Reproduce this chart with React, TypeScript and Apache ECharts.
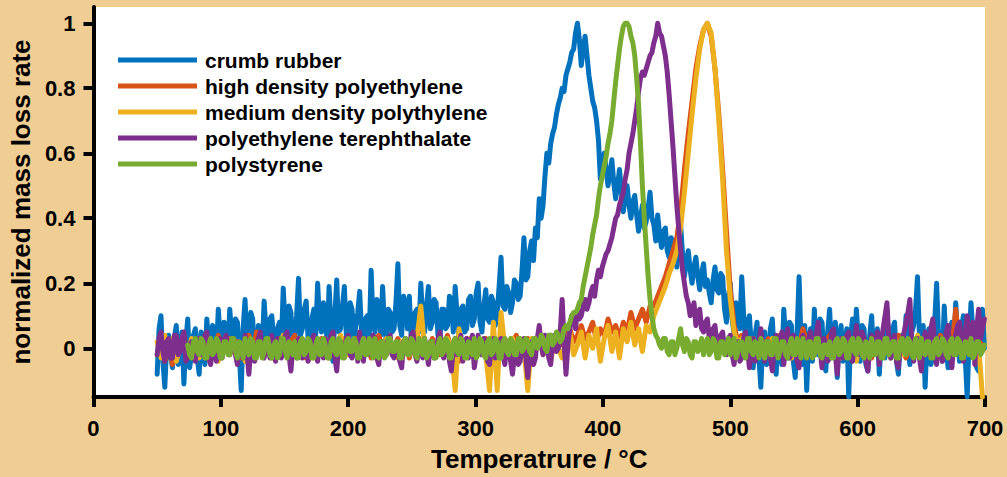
import React, { useEffect, useRef } from "react";
import * as echarts from "echarts";

const seriesNames = [
  "crumb rubber",
  "high density polyethylene",
  "medium density polythylene",
  "polyethylene terephthalate",
  "polystyrene",
];
const seriesColors = ["#0072BD", "#D95319", "#EDB120", "#7E2F8E", "#77AC30"];

const xTicks = [0, 100, 200, 300, 400, 500, 600, 700];
const yTicks = [0, 0.2, 0.4, 0.6, 0.8, 1];

// Sampling grid of each run: first temperature and spacing (°C)
const seriesStart = [50, 50, 50, 50, 74];
const seriesStep = [1.5, 3, 3, 1.5, 1.5];

// crumb rubber, 50..699.5 °C every 1.5 °C
const crumbRubber = [
  -0.08, 0.06, 0.10, -0.04, -0.12, 0.01, 0.04, -0.02, -0.06, 0.03, 0.07, -0.05, -0.03, 0.05, -0.11, 0.02, 0.09, -0.06, -0.02, 0.04,
  0.06, -0.03, -0.08, 0.05, 0.03, -0.05, 0.09, 0.01, -0.04, 0.07, 0.05, -0.02, 0.12, 0.03, -0.02, 0.08, 0.07, -0.01, 0.12, 0.04,
  0.01, 0.09, 0.08, -0.02, -0.13, 0.06, 0.15, 0.02, 0.03, 0.11, 0.09, -0.03, -0.02, 0.07, 0.06, 0.0, 0.145, 0.05, 0.02, 0.09,
  0.10, 0.03, -0.03, 0.06, 0.08, 0.01, 0.185, 0.07, 0.04, 0.13, 0.11, 0.0, 0.02, 0.10, 0.215, 0.04, 0.06, 0.12, 0.145, 0.03,
  0.01, 0.09, 0.12, 0.04, 0.20, 0.08, 0.05, 0.14, 0.09, 0.02, 0.19, 0.07, -0.04, 0.10, 0.21, 0.05, 0.06, 0.13, 0.19, 0.04,
  0.03, 0.14, 0.12, 0.02, 0.07, 0.11, 0.175, 0.05, 0.0, 0.09, 0.10, 0.03, 0.24, 0.08, 0.05, 0.15, 0.13, 0.04, 0.19, 0.07,
  0.02, 0.12, 0.11, 0.05, 0.06, 0.14, 0.26, 0.07, 0.04, 0.16, 0.13, 0.06, 0.16, 0.03, 0.03, 0.11, 0.12, 0.05, 0.20, 0.09,
  0.05, 0.13, 0.19, 0.06, 0.08, 0.15, 0.14, 0.04, 0.03, 0.12, 0.12, 0.06, 0.07, 0.16, 0.15, 0.05, 0.19, 0.10, 0.04, 0.12,
  0.13, 0.05, 0.06, 0.15, 0.16, 0.07, 0.09, 0.17, 0.20, 0.08, 0.05, 0.13, 0.18, 0.09, 0.08, 0.16, 0.14, 0.07, 0.11, 0.19,
  0.28, 0.13, 0.12, 0.19, 0.17, 0.11, 0.14, 0.21, 0.20, 0.15, 0.16, 0.24, 0.34, 0.21, 0.22, 0.30, 0.33, 0.27, 0.37, 0.34,
  0.46, 0.40, 0.44, 0.53, 0.60, 0.57, 0.63, 0.66, 0.68, 0.72, 0.75, 0.77, 0.80, 0.79, 0.84, 0.86, 0.88, 0.91, 0.92, 0.97,
  1.0, 0.95, 0.87, 0.92, 0.96, 0.90, 0.84, 0.80, 0.76, 0.74, 0.70, 0.64, 0.52, 0.56, 0.60, 0.55, 0.50, 0.54, 0.58, 0.51,
  0.46, 0.50, 0.55, 0.48, 0.42, 0.47, 0.50, 0.44, 0.40, 0.45, 0.47, 0.41, 0.36, 0.40, 0.44, 0.37, 0.39, 0.43, 0.48, 0.40,
  0.38, 0.33, 0.41, 0.35, 0.31, 0.36, 0.37, 0.30, 0.28, 0.34, 0.33, 0.27, 0.25, 0.31, 0.38, 0.29, 0.22, 0.27, 0.30, 0.24,
  0.20, 0.25, 0.28, 0.22, 0.18, 0.23, 0.26, 0.19, 0.21, 0.17, 0.14, 0.21, 0.25, 0.18, 0.17, 0.23, 0.22, 0.12, 0.08, 0.16,
  0.20, 0.09, 0.04, 0.14, 0.12, 0.06, 0.22, 0.10, 0.02, 0.07, 0.10, 0.01, -0.06, 0.04, 0.08, -0.03, -0.12, 0.02, 0.05, -0.05,
  -0.04, 0.06, 0.09, -0.02, -0.08, 0.03, 0.04, -0.05, 0.12, 0.02, -0.03, 0.08, 0.07, -0.04, -0.09, 0.05, 0.22, 0.03, -0.05, 0.07,
  -0.13, 0.02, 0.06, -0.04, 0.12, 0.01, -0.02, 0.09, 0.08, -0.03, -0.07, 0.05, 0.12, -0.01, 0.02, 0.08, -0.09, 0.03, 0.07, -0.04,
  0.01, 0.06, -0.15, 0.04, 0.09, -0.02, 0.12, 0.03, -0.04, 0.07, 0.06, -0.05, -0.07, 0.04, 0.10, -0.02, 0.0, 0.06, -0.08, 0.02,
  0.05, -0.03, 0.12, 0.01, -0.03, 0.06, 0.08, -0.04, -0.08, 0.03, 0.04, -0.02, 0.10, 0.02, -0.05, 0.05, 0.07, 0.12, 0.22, 0.04,
  0.0, 0.07, -0.12, 0.03, 0.06, -0.05, -0.03, 0.08, 0.20, 0.04, 0.02, -0.04, 0.13, 0.01, -0.06, 0.05, 0.08, -0.02, 0.14, 0.03,
  -0.04, 0.06, 0.10, -0.03, -0.15, 0.02, 0.14, 0.05, 0.03, -0.06, -0.07, 0.04, 0.12, 0.0,
];

// high density polyethylene, 50..698 °C every 3 °C
const hdpe = [
  -0.02, 0.03, -0.04, 0.01, -0.05, 0.02, -0.01, 0.04, -0.03, 0.01,
  -0.02, 0.03, 0.0, -0.03, 0.02, -0.01, 0.04, -0.02, 0.01, 0.03,
  -0.01, 0.02, -0.03, 0.01, 0.04, -0.02, 0.05, 0.0, -0.02, 0.02,
  0.01, -0.03, 0.03, 0.0, -0.02, 0.02, 0.04, -0.01, 0.01, -0.03,
  0.02, 0.0, -0.02, 0.03, 0.01, -0.03, 0.02, 0.0, -0.01, 0.03,
  -0.02, 0.01, 0.03, -0.01, 0.0, 0.02, -0.03, 0.01, 0.04, 0.0,
  -0.02, 0.02, 0.0, 0.03, -0.01, 0.01, -0.03, 0.02, 0.05, 0.0,
  0.02, -0.01, 0.03, 0.0, -0.02, 0.01, 0.04, -0.01, 0.02, -0.04,
  0.01, 0.03, -0.02, 0.0, 0.02, -0.01, 0.03, -0.05, 0.01, 0.02,
  0.0, 0.03, -0.01, 0.02, 0.04, -0.02, 0.01, 0.03, -0.05, 0.02,
  0.01, 0.03, 0.0, 0.04, 0.02, 0.05, 0.01, 0.03, 0.06, 0.02,
  0.04, 0.07, 0.03, 0.05, 0.08, 0.02, 0.06, 0.04, 0.09, 0.05,
  0.07, 0.03, 0.08, 0.05, 0.11, 0.06, 0.09, 0.12, 0.08, 0.13,
  0.13, 0.16, 0.19, 0.22, 0.26, 0.30, 0.34, 0.42, 0.55, 0.66,
  0.76, 0.86, 0.93, 0.98, 1.0, 0.96, 0.86, 0.72, 0.55, 0.36,
  0.18, 0.07, 0.02, 0.04, -0.02, 0.03, 0.0, -0.03, 0.02, 0.0,
  0.03, -0.02, 0.01, 0.04, -0.01, 0.02, -0.03, 0.01, 0.0, 0.06,
  0.02, -0.02, 0.03, 0.0, -0.03, 0.02, 0.04, -0.01, 0.01, -0.02,
  0.03, 0.0, -0.02, 0.02, 0.04, -0.01, 0.01, -0.03, 0.02, 0.0,
  -0.02, 0.03, 0.01, -0.01, 0.04, 0.0, -0.03, 0.02, 0.01, -0.02,
  0.03, 0.0, 0.02, -0.02, 0.01, 0.04, -0.01, 0.02, 0.0, 0.12,
  0.01, -0.02, 0.03, 0.0, -0.03, 0.02, 0.01,
];

// medium density polyethylene, 50..698 °C every 3 °C
const mdpe = [
  0.02, -0.03, 0.04, -0.01, 0.03, -0.04, 0.0, 0.02, -0.02, 0.03,
  0.0, -0.03, 0.02, 0.04, -0.01, 0.01, -0.04, 0.02, 0.0, -0.02,
  0.03, -0.01, 0.01, -0.04, 0.02, 0.0, -0.02, 0.03, -0.01, 0.01,
  -0.03, 0.02, 0.0, 0.04, -0.02, 0.01, -0.01, 0.03, 0.0, -0.02,
  0.02, -0.03, 0.01, 0.0, 0.03, -0.02, 0.01, -0.01, 0.04, 0.0,
  -0.02, 0.02, 0.0, -0.03, 0.03, 0.01, -0.01, 0.02, -0.02, 0.0,
  0.03, -0.01, 0.01, -0.03, 0.02, 0.0, -0.02, 0.01, 0.03, 0.13,
  0.0, -0.03, 0.02, -0.01, 0.01, -0.02, 0.03, 0.0, -0.13, 0.06,
  -0.02, 0.01, 0.03, -0.03, 0.02, 0.0, -0.02, -0.13, 0.08, -0.13,
  0.11, 0.0, -0.02, 0.03, -0.01, 0.02, 0.0, -0.13, 0.03, 0.01,
  0.04, -0.02, 0.02, -0.04, 0.03, 0.0, -0.03, 0.02, 0.05, -0.02,
  0.01, 0.05, -0.03, 0.04, 0.0, 0.06, -0.04, 0.03, 0.07, -0.01,
  0.05, -0.03, 0.06, 0.02, 0.08, 0.01, 0.06, -0.01, 0.07, 0.05,
  0.10, 0.13, 0.16, 0.19, 0.23, 0.26, 0.30, 0.37, 0.48, 0.60,
  0.72, 0.83, 0.92, 0.98, 1.0, 0.97, 0.86, 0.70, 0.52, 0.30,
  0.15, 0.05, 0.01, 0.03, -0.02, 0.01, 0.03, -0.02, 0.0, 0.02,
  -0.01, 0.03, 0.0, -0.02, 0.02, 0.01, -0.03, 0.02, 0.0, 0.03,
  -0.02, 0.01, 0.03, 0.0, -0.02, 0.02, -0.01, 0.03, 0.0, -0.03,
  0.01, -0.01, 0.03, -0.04, 0.02, 0.0, -0.02, 0.03, 0.01, -0.01,
  0.02, 0.0, -0.03, 0.03, 0.01, -0.02, 0.02, 0.0, -0.01, 0.04,
  0.0, -0.02, 0.03, 0.01, -0.04, 0.02, 0.0, 0.03, -0.02, 0.01,
  0.02, -0.01, 0.0, 0.03, -0.02, 0.01, -0.15,
];

// polyethylene terephthalate, 50..699.5 °C every 1.5 °C
const pet = [
  -0.02, 0.03, 0.05, -0.01, -0.04, 0.02, 0.03, -0.03, -0.03, 0.04, 0.04, -0.02, -0.01, 0.03, 0.05, -0.04, -0.03, 0.01, 0.02, -0.02,
  -0.04, 0.02, 0.03, -0.02, -0.01, 0.04, 0.05, -0.03, -0.05, 0.01, 0.02, -0.04, 0.0, 0.03, -0.03, 0.02, 0.04, -0.01, -0.02, 0.03,
  0.03, -0.02, -0.05, 0.02, 0.01, -0.03, 0.04, -0.01, -0.08, 0.0, 0.02, -0.04, -0.02, 0.03, 0.05, -0.02, -0.03, 0.02, 0.01, -0.03,
  0.04, -0.01, -0.04, 0.03, 0.02, -0.03, -0.01, 0.04, 0.05, -0.02, -0.07, 0.0, 0.01, -0.03, 0.03, -0.02, -0.03, 0.02, 0.02, -0.04,
  -0.02, 0.03, 0.04, -0.01, -0.04, 0.02, 0.01, -0.03, 0.03, 0.0, -0.02, 0.04, 0.05, -0.03, -0.07, 0.01, 0.02, -0.02, -0.01, 0.03,
  0.04, -0.02, -0.03, 0.02, 0.01, -0.04, 0.05, 0.0, -0.04, 0.03, 0.02, -0.02, -0.01, 0.04, 0.03, -0.03, -0.05, 0.01, 0.02, -0.02,
  0.0, 0.03, 0.04, -0.02, -0.03, 0.01, 0.02, -0.04, -0.06, 0.02, 0.03, -0.01, 0.0, 0.04, 0.05, -0.02, -0.04, 0.0, 0.01, -0.03,
  0.03, -0.01, -0.05, 0.02, 0.02, -0.03, -0.02, 0.03, 0.05, -0.01, -0.03, 0.02, 0.01, -0.04, -0.07, 0.0, 0.03, -0.02, 0.0, 0.04,
  -0.04, 0.01, 0.03, -0.03, 0.01, 0.04, -0.06, -0.02, 0.04, 0.0, -0.02, 0.03, 0.02, -0.04, -0.05, 0.01, 0.03, -0.03, -0.01, 0.02,
  0.03, -0.02, -0.05, 0.01, 0.02, -0.04, -0.08, -0.02, 0.01, -0.05, -0.04, 0.02, 0.03, -0.03, -0.09, -0.01, 0.02, -0.05, -0.03, 0.03,
  0.07, 0.01, -0.02, 0.04, 0.03, -0.03, -0.05, 0.02, 0.04, -0.01, 0.0, 0.05, 0.15, 0.02, -0.08, 0.01, 0.06, 0.10, 0.09, 0.06,
  0.12, 0.09, 0.10, 0.13, 0.15, 0.12, 0.14, 0.17, 0.19, 0.16, 0.21, 0.24, 0.22, 0.25, 0.27, 0.29, 0.30, 0.32, 0.34, 0.37,
  0.40, 0.41, 0.44, 0.46, 0.48, 0.52, 0.55, 0.60, 0.63, 0.66, 0.70, 0.74, 0.79, 0.83, 0.85, 0.84, 0.86, 0.88, 0.90, 0.91,
  0.94, 0.96, 1.0, 0.97, 0.96, 0.93, 0.90, 0.85, 0.78, 0.70, 0.62, 0.53, 0.44, 0.37, 0.30, 0.24, 0.20, 0.16, 0.14, 0.10,
  0.11, 0.14, 0.07, 0.10, 0.12, 0.06, 0.05, 0.08, 0.09, 0.03, 0.02, 0.06, 0.07, 0.01, 0.0, 0.04, 0.05, -0.01, -0.02, 0.03,
  0.04, -0.02, -0.05, 0.01, 0.02, -0.04, -0.03, 0.03, 0.05, 0.0, -0.06, -0.01, 0.03, -0.04, -0.02, 0.02, 0.06, 0.0, -0.04, 0.02,
  0.02, -0.03, -0.07, 0.0, 0.04, -0.02, 0.0, 0.05, -0.05, 0.01, 0.06, -0.03, -0.02, 0.04, 0.03, -0.04, -0.06, 0.02, 0.04, -0.01,
  -0.03, 0.03, 0.05, -0.02, -0.01, 0.04, 0.08, 0.0, -0.06, 0.03, 0.02, -0.04, -0.03, 0.05, 0.06, -0.02, -0.08, 0.01, 0.03, -0.03,
  0.0, 0.04, 0.05, -0.03, -0.04, 0.02, 0.07, 0.01, -0.02, 0.05, 0.03, -0.04, -0.07, 0.0, 0.04, -0.02, 0.01, 0.05, -0.05, 0.02,
  0.06, 0.10, 0.14, 0.03, -0.03, 0.02, 0.04, -0.04, -0.06, 0.01, 0.02, 0.05, 0.08, 0.11, 0.15, 0.02, -0.04, 0.01, 0.03, -0.03,
  -0.07, 0.02, 0.05, -0.02, 0.0, 0.06, 0.09, 0.01, -0.05, 0.02, 0.03, -0.04, -0.02, 0.05, 0.07, -0.01, -0.06, 0.02, 0.04, 0.07,
  0.08, 0.02, -0.04, 0.05, 0.10, 0.04, 0.02, 0.08, -0.05, 0.06, 0.12, 0.03, 0.06, 0.09,
];

// polystyrene, 74..699.5 °C every 1.5 °C
const polystyrene = [
  0.01, -0.02, -0.03, 0.02, 0.03, -0.01, -0.02, 0.03, 0.02, -0.03, -0.03, 0.01, 0.03, -0.02, -0.01, 0.03, 0.02, -0.03,
  -0.03, 0.02, 0.02, -0.02, -0.02, 0.03, 0.03, -0.01, -0.03, 0.02, 0.01, -0.03, 0.03, 0.0, -0.02, 0.03, 0.02, -0.03, -0.03, 0.02,
  0.02, -0.03, -0.01, 0.03, 0.03, -0.02, -0.03, 0.01, 0.02, -0.03, -0.02, 0.03, 0.03, -0.01, -0.03, 0.02, 0.01, -0.02, 0.02, -0.03,
  -0.03, 0.02, 0.03, -0.02, -0.01, 0.03, 0.02, -0.03, -0.03, 0.01, 0.03, -0.02, -0.02, 0.03, 0.01, -0.03, -0.03, 0.02, 0.03, -0.01,
  -0.02, 0.03, 0.02, -0.03, -0.03, 0.02, 0.03, -0.01, -0.01, 0.03, 0.02, -0.03, -0.03, 0.01, 0.03, -0.02, -0.02, 0.03, 0.01, -0.03,
  0.03, -0.02, -0.03, 0.02, 0.02, -0.03, -0.02, 0.03, 0.03, -0.01, -0.01, 0.02, 0.02, -0.03, -0.03, 0.02, 0.03, -0.02, -0.02, 0.03,
  0.02, -0.02, -0.03, 0.03, 0.01, -0.02, 0.03, -0.03, -0.02, 0.02, 0.02, -0.03, -0.03, 0.01, 0.03, -0.02, -0.01, 0.03, 0.02, -0.03,
  -0.03, 0.02, 0.03, -0.01, -0.02, 0.03, 0.02, -0.03, -0.03, 0.02, 0.01, -0.02, 0.03, -0.03, -0.02, 0.03, 0.02, -0.02, -0.03, 0.02,
  0.03, -0.02, -0.01, 0.03, 0.02, -0.03, -0.03, 0.02, 0.03, -0.01, -0.02, 0.03, 0.02, -0.02, -0.02, 0.03, 0.03, -0.01, 0.0, 0.03,
  0.02, -0.01, -0.02, 0.03, 0.03, 0.0, 0.01, 0.04, 0.03, 0.0, -0.01, 0.04, 0.04, 0.01, 0.02, 0.05, 0.04, 0.02, 0.03, 0.06,
  0.07, 0.06, 0.08, 0.10, 0.11, 0.11, 0.12, 0.14, 0.15, 0.19, 0.22, 0.25, 0.28, 0.31, 0.35, 0.38, 0.41, 0.46, 0.50, 0.53,
  0.56, 0.59, 0.63, 0.66, 0.70, 0.76, 0.82, 0.87, 0.92, 0.96, 0.99, 1.0, 1.0, 0.99, 0.96, 0.94, 0.90, 0.83, 0.75, 0.63,
  0.50, 0.40, 0.31, 0.22, 0.15, 0.10, 0.06, 0.04, 0.03, 0.01, 0.0, 0.03, 0.03, -0.01, -0.02, 0.02, 0.02, -0.02, 0.0, 0.03,
  0.06, 0.01, -0.01, 0.03, 0.02, -0.02, -0.03, 0.02, 0.02, -0.01, 0.0, 0.03, -0.02, 0.01, 0.03, -0.02, -0.01, 0.03, 0.02, -0.03,
  -0.03, 0.02, 0.02, -0.02, 0.0, 0.03, -0.02, 0.01, 0.03, -0.03, -0.01, 0.02, 0.02, -0.02, -0.03, 0.03, 0.03, -0.01, -0.02, 0.02,
  0.01, -0.03, 0.03, 0.0, -0.03, 0.02, 0.02, -0.02, -0.02, 0.03, 0.03, -0.03, -0.01, 0.02, 0.02, -0.02, -0.03, 0.01, 0.03, -0.02,
  -0.02, 0.03, 0.01, -0.03, 0.03, 0.0, -0.03, 0.02, 0.02, -0.03, -0.02, 0.03, 0.03, -0.02, -0.03, 0.01, 0.01, -0.02, 0.02, -0.03,
  -0.03, 0.02, 0.03, -0.02, -0.01, 0.03, 0.02, -0.03, -0.03, 0.02, 0.03, -0.01, -0.02, 0.03, 0.02, -0.02, -0.03, 0.02, 0.01, -0.03,
  0.03, -0.02, -0.02, 0.02, 0.02, -0.03, -0.03, 0.03, 0.03, -0.02, -0.01, 0.02, 0.02, -0.03, -0.03, 0.02, 0.03, -0.01, -0.02, 0.03,
  0.02, -0.02, -0.03, 0.03, 0.01, -0.03, 0.03, -0.01, -0.02, 0.02, 0.02, -0.03, -0.03, 0.02, 0.03, -0.02, -0.01, 0.03, 0.02, -0.02,
  -0.03, 0.02, 0.03, -0.02, -0.02, 0.03, 0.02, -0.03, -0.03, 0.02, 0.01, -0.02, 0.03, -0.03, -0.02, 0.02, 0.02, -0.02, -0.01, 0.01,
];

const seriesValues = [crumbRubber, hdpe, mdpe, pet, polystyrene];

const FONT = "'Liberation Sans', Arial, Helvetica, sans-serif";
const PAGE_BG = "#F0CD93";

function toPoints(start: number, step: number, values: number[]): number[][] {
  return values.map((v, i) => [start + i * step, v]);
}

export default function App() {
  const ref = useRef<HTMLDivElement>(null);

  useEffect(() => {
    if (!ref.current) return;
    const chart = echarts.init(ref.current, null, { renderer: "svg" });

    const axisLine = { show: true, onZero: false, lineStyle: { color: "#000", width: 4 } };
    const axisTick = { show: true, inside: false, length: 10, lineStyle: { color: "#000", width: 4 } };

    chart.setOption({
      animation: false,
      backgroundColor: PAGE_BG,
      textStyle: { fontFamily: FONT },
      grid: {
        left: 92,
        right: 22,
        top: 7,
        bottom: 77.5,
        show: true,
        backgroundColor: "#ffffff",
        borderWidth: 0,
      },
      legend: {
        orient: "vertical",
        left: 118,
        top: 47,
        padding: 0,
        icon: "rect",
        itemWidth: 79,
        itemHeight: 5,
        itemGap: 0,
        data: seriesNames,
        textStyle: {
          fontFamily: FONT,
          fontWeight: "bold",
          fontSize: 21,
          color: "#000",
          lineHeight: 26,
          padding: [0, 0, 0, 3],
        },
      },
      xAxis: {
        type: "value",
        min: xTicks[0],
        max: xTicks[xTicks.length - 1],
        interval: 100,
        axisLine,
        axisTick,
        splitLine: { show: false },
        axisLabel: {
          fontFamily: FONT,
          fontWeight: "bold",
          fontSize: 22,
          color: "#000",
          margin: 20,
        },
        name: "Temperatrure / °C",
        nameLocation: "middle",
        nameGap: 49,
        nameTextStyle: {
          fontFamily: FONT,
          fontWeight: "bold",
          fontSize: 26,
          color: "#000",
        },
      },
      yAxis: {
        type: "value",
        min: -0.15,
        max: 1.05,
        axisLine,
        axisTick: { ...axisTick, customValues: yTicks },
        splitLine: { show: false },
        axisLabel: {
          fontFamily: FONT,
          fontWeight: "bold",
          fontSize: 22,
          color: "#000",
          margin: 18,
          customValues: yTicks,
          formatter: (v: number) => String(Math.round(v * 10) / 10),
        },
        name: "normalized mass loss rate",
        nameLocation: "middle",
        nameGap: 52,
        nameTextStyle: {
          fontFamily: FONT,
          fontWeight: "bold",
          fontSize: 26,
          color: "#000",
        },
      },
      series: seriesNames.map((name, k) => ({
        name,
        type: "line",
        data: toPoints(seriesStart[k], seriesStep[k], seriesValues[k]),
        showSymbol: false,
        symbol: "none",
        clip: true,
        color: seriesColors[k],
        lineStyle: { color: seriesColors[k], width: 5, join: "round", cap: "round" },
        emphasis: { disabled: true },
      })),
    });

    return () => chart.dispose();
  }, []);

  return (
    <div
      ref={ref}
      style={{ position: "absolute", left: 0, top: 0, width: 1007, height: 477 }}
    />
  );
}
